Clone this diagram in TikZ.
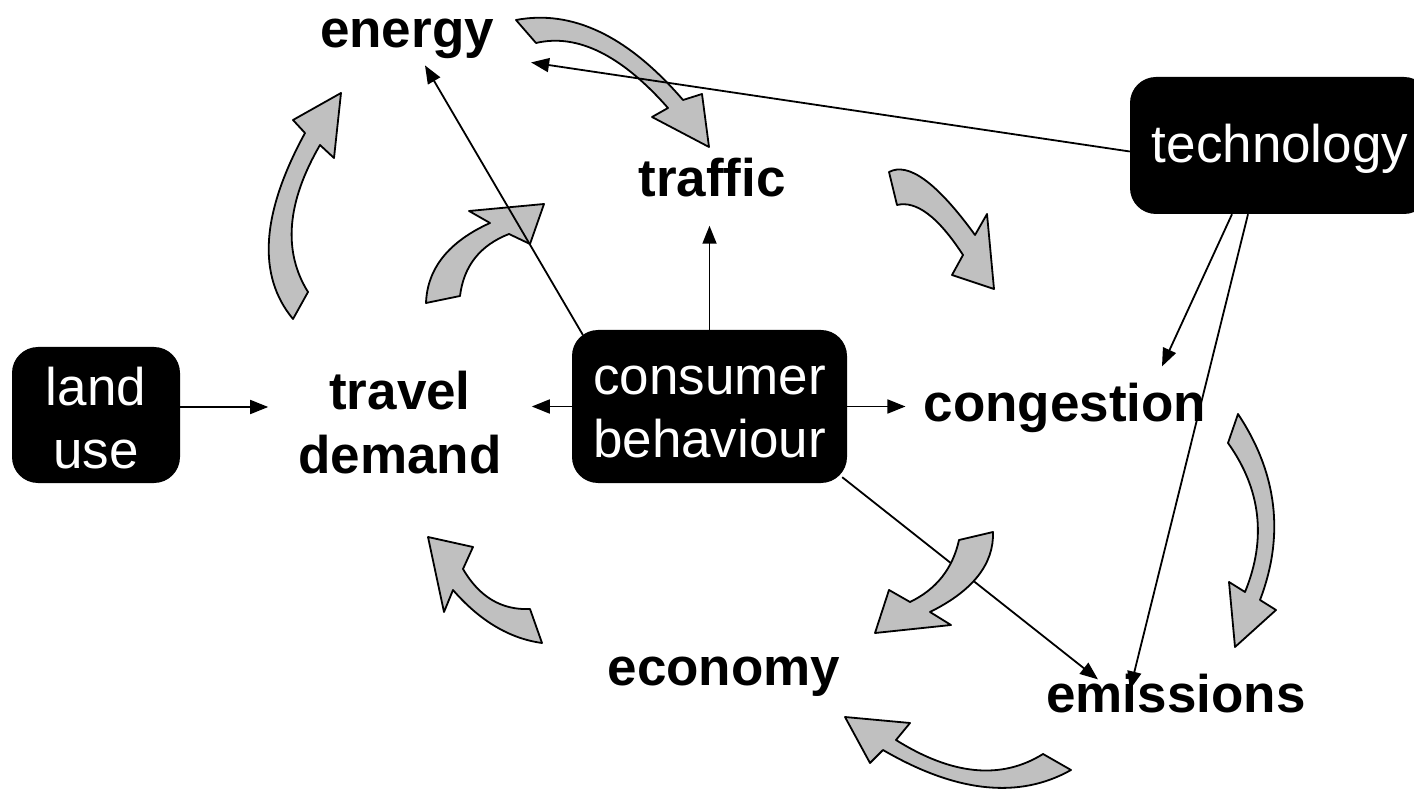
\documentclass[tikz,border=0pt]{standalone}
\usepackage{fontspec}
\setmainfont{Liberation Sans}
\usetikzlibrary{arrows.meta}
\definecolor{grayfill}{HTML}{C0C0C0}
\begin{document}
\begin{tikzpicture}[x=1pt,y=-1pt,
  lbl/.style={font=\fontsize{53}{63}\selectfont\bfseries, align=center, inner sep=0pt, anchor=base},
  blk/.style={fill=black, text=white, rounded corners=26pt, font=\fontsize{53}{63}\selectfont, align=center, inner sep=0pt, anchor=base},
  conn/.style={line width=1.8pt, -{Triangle[length=18pt,width=14pt]}},
  garrow/.style={fill=grayfill, draw=black, line width=1.8pt, line join=round}
]
\useasboundingbox (0,0) rectangle (1414,791);
\clip (0,0) rectangle (1414,791);

% nodes (multi-line nodes: base = last line)
\node[blk, minimum width=168pt, text height=121pt, text depth=15pt] (land) at (96,468) {land\\use};
\node[blk, minimum width=275pt, text height=127pt, text depth=26pt] (consumer) at (709.5,457) {consumer\\behaviour};
\node[blk, minimum width=300pt, text height=86pt, text depth=51pt] (tech) at (1280,163) {technology};
\node[lbl, inner xsep=30pt] (travel) at (400,473) {travel\\demand};
\node[lbl, inner sep=6pt] (energy) at (407,48) {energy};
\node[lbl, inner sep=28pt] (traffic) at (712,197) {traffic};
\node[lbl, inner xsep=18pt, inner ysep=17pt] (congestion) at (1065,422) {congestion};
\node[lbl] (economy) at (724,685) {economy};
\node[lbl] (emissions) at (1176,712) {emissions};

% connector under the grey arrow
\draw[conn] ([xshift=-5pt,yshift=6pt]consumer.south east) -- ([xshift=-78pt,yshift=-6pt]emissions.north);

% grey block arrows
\draw[garrow] (293,319) .. controls (257,275.7) and (261,213.7) .. (305,133) -- (293,120) -- (341,93) -- (334,158) -- (320,145) .. controls (286.7,202.3) and (282.7,251.3) .. (308,292) -- cycle;
\draw[garrow] (426,303) .. controls (427.3,268.3) and (448.7,241.7) .. (490,223) -- (469,211) -- (544,204) -- (530,244) -- (509,234) .. controls (480,245.3) and (463.7,266) .. (460,296) -- cycle;
\draw[garrow] (516,20) .. controls (572.3,9.3) and (628,36) .. (683,100) -- (702,94) -- (709,147) -- (652,117) -- (668,108) .. controls (621.3,55) and (577.3,33.3) .. (536,43) -- cycle;
\draw[garrow] (889,172) .. controls (908.3,161.7) and (937,182.7) .. (975,235) -- (987,214) -- (994,289) -- (952,275) -- (963,255) .. controls (938.3,217) and (916.3,200.3) .. (897,205) -- cycle;
\draw[garrow] (1238,414) .. controls (1277.3,473.3) and (1284.7,535.3) .. (1260,600) -- (1276,610) -- (1235,647) -- (1229,582) -- (1245,592) .. controls (1266.7,539) and (1261,489.3) .. (1228,443) -- cycle;
\draw[garrow] (1071,770) .. controls (1019,799.3) and (956.3,792.7) .. (883,750) -- (870,763) -- (845,717) -- (910,723) -- (896,740) .. controls (952.3,775.3) and (1001.3,780) .. (1043,754) -- cycle;
\draw[garrow] (542,643) .. controls (509,638.5) and (479.3,620.3) .. (453,590) -- (444,612) -- (428,537) -- (473,547) -- (463,569) .. controls (479.3,597) and (501.7,610.3) .. (530,609) -- cycle;
\draw[garrow] (993,532) .. controls (994,564) and (973,590.7) .. (930,612) -- (951,625) -- (875,633) -- (889,590) -- (910,602) .. controls (936.3,589.3) and (952.7,568.7) .. (959,540) -- cycle;

% connectors
\coordinate (lu) at ([yshift=8pt]land.east);
\draw[conn] (lu) -- (lu -| travel.west);
\draw[conn] (consumer.west) -- (consumer.west -| travel.east);
\draw[conn] (consumer.east) -- (consumer.east -| congestion.west);
\draw[conn] (consumer.north) -- (consumer.north |- traffic.south);
\draw[conn] ([xshift=11pt,yshift=-5pt]consumer.north west) -- ([xshift=18pt]energy.south);
\draw[conn] ([yshift=-6pt]tech.west) -- ([xshift=31pt,yshift=3pt]energy.south east);
\draw[conn] ([xshift=-48pt]tech.south) -- ([xshift=97pt]congestion.north);
\draw[conn] ([xshift=-32pt]tech.south) -- ([xshift=-46pt,yshift=-16pt]emissions.north);
\end{tikzpicture}
\end{document}
